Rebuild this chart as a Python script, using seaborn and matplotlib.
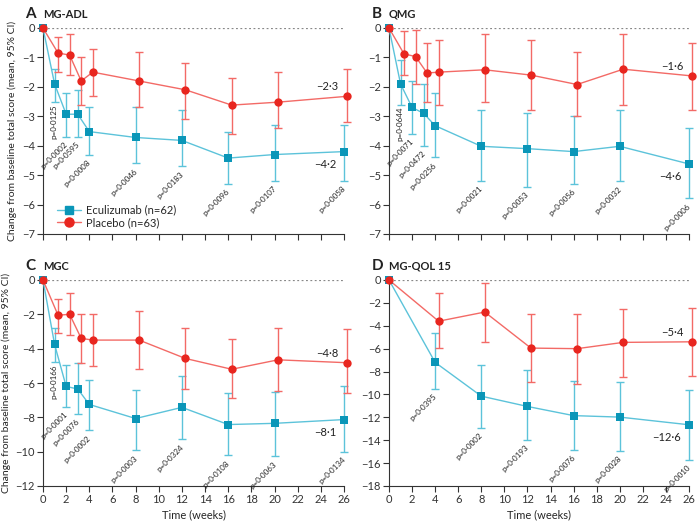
import numpy as np
import pandas as pd
import matplotlib
matplotlib.use("Agg")
import matplotlib.pyplot as plt
import seaborn as sns

# ================================
# DATA
# ================================
weeks = np.array([0, 1, 2, 3, 4, 8, 12, 16, 20, 26])
weeks_qol = np.array([0, 4, 8, 12, 16, 20, 26])

# A - MG-ADL
adl_ecu = [0, -1.9, -2.93, -2.93, -3.52, -3.72, -3.82, -4.42, -4.3, -4.2]
adl_ecu_lo = [0, -2.5, -3.7, -3.7, -4.3, -4.6, -4.7, -5.3, -5.2, -5.2]
adl_ecu_hi = [0, -1.4, -2.2, -2.1, -2.7, -2.7, -2.78, -3.52, -3.3, -3.3]
adl_pbo = [0, -0.85, -0.92, -1.8, -1.5, -1.8, -2.1, -2.62, -2.52, -2.32]
adl_pbo_lo = [0, -1.5, -1.6, -2.6, -2.3, -2.7, -3.1, -3.6, -3.4, -3.2]
adl_pbo_hi = [0, -0.32, -0.2, -1.0, -0.7, -0.8, -1.2, -1.7, -1.5, -1.4]
adl_p = ["0·0125", "0·0002", "0·0595", "0·0008", "0·0046", "0·0183", "0·0096", "0·0107", "0·0058"]
adl_end = ["\u22122·3", "\u22124·2"]

# B - QMG
qmg_ecu = [0, -1.9, -2.7, -2.9, -3.32, -4.02, -4.1, -4.2, -4.02, -4.62]
qmg_ecu_lo = [0, -2.6, -3.6, -4.0, -4.4, -5.2, -5.4, -5.3, -5.2, -5.78]
qmg_ecu_hi = [0, -1.1, -1.8, -1.9, -2.2, -2.8, -2.9, -3.0, -2.8, -3.4]
qmg_pbo = [0, -0.88, -0.97, -1.53, -1.5, -1.42, -1.6, -1.92, -1.4, -1.63]
qmg_pbo_lo = [0, -1.6, -1.9, -2.5, -2.6, -2.5, -2.8, -3.0, -2.6, -2.78]
qmg_pbo_hi = [0, -0.1, -0.08, -0.52, -0.42, -0.2, -0.4, -0.8, -0.2, -0.52]
qmg_p = ["0·0644", "0·0071", "0·0472", "0·0256", "0·0021", "0·0053", "0·0056", "0·0032", "0·0006"]
qmg_end = ["\u22121·6", "\u22124·6"]

# C - MGC
mgc_ecu = [0, -3.75, -6.2, -6.35, -7.25, -8.07, -7.42, -8.42, -8.35, -8.13]
mgc_ecu_lo = [0, -4.8, -7.4, -7.8, -8.75, -9.9, -9.27, -10.2, -10.25, -10.0]
mgc_ecu_hi = [0, -2.8, -4.95, -4.85, -5.85, -6.4, -5.58, -6.6, -6.5, -6.2]
mgc_pbo = [0, -2.05, -2.0, -3.4, -3.5, -3.5, -4.57, -5.2, -4.65, -4.82]
mgc_pbo_lo = [0, -3.1, -3.22, -4.85, -5.0, -5.2, -6.35, -6.85, -6.48, -6.6]
mgc_pbo_hi = [0, -1.1, -0.75, -2.0, -2.0, -1.78, -2.8, -3.42, -2.8, -2.88]
mgc_p = ["0·0166", "0·0001", "0·0076", "0·0002", "0·0003", "0·0324", "0·0108", "0·0063", "0·0134"]
mgc_end = ["\u22124·8", "\u22128·1"]

# D - MG-QOL 15
qol_ecu = [0, -7.2, -10.15, -11.05, -11.85, -11.98, -12.65]
qol_ecu_lo = [0, -9.5, -12.9, -13.95, -14.85, -14.9, -15.7]
qol_ecu_hi = [0, -4.65, -7.45, -7.9, -8.85, -8.9, -9.6]
qol_pbo = [0, -3.6, -2.8, -5.95, -6.0, -5.45, -5.4]
qol_pbo_lo = [0, -5.9, -5.4, -8.95, -9.1, -8.45, -8.35]
qol_pbo_hi = [0, -1.1, -0.3, -2.95, -3.0, -2.5, -2.45]
qol_p = ["0·0395", "0·0002", "0·0193", "0·0076", "0·0028", "0·0010"]
qol_end = ["\u22125·4", "\u221212·6"]

ecu_dark, ecu_light = "#0a96b8", "#5cc3da"
pbo_dark, pbo_light = "#e8261f", "#f36a66"

sns.set_theme(style="ticks")
plt.rcParams["font.family"] = ["Lato", "DejaVu Sans"]
plt.rcParams["axes.edgecolor"] = "#333333"
plt.rcParams["xtick.color"] = "#333333"
plt.rcParams["ytick.color"] = "#333333"

fig = plt.figure(figsize=(7, 5.21), dpi=100)
W, H = 700, 521


def add_ax(left, top, right, bottom):
    return fig.add_axes([left / W, 1 - bottom / H, (right - left) / W, (bottom - top) / H])


def draw_panel(ax, x, ecu, ecu_lo, ecu_hi, pbo, pbo_lo, pbo_hi, pvals, ends, ymin, ystep,
               letter, name, show_x, show_ylabel, vert_first):
    x = np.asarray(x, dtype=float)
    x_pbo = np.where(x > 0, x + 0.3, x)
    df = pd.DataFrame({"x": np.concatenate([x, x_pbo]),
                       "y": ecu + pbo,
                       "lo": ecu_lo + pbo_lo,
                       "hi": ecu_hi + pbo_hi,
                       "group": ["Eculizumab (n=62)"] * len(x) + ["Placebo (n=63)"] * len(x)})

    ax.axhline(0, color="#888888", lw=0.9, ls=(0, (1.5, 2)), zorder=0)

    for grp, dark, light, mk, ms in [("Eculizumab (n=62)", ecu_dark, ecu_light, "s", 28),
                                     ("Placebo (n=63)", pbo_dark, pbo_light, "o", 36)]:
        d = df[df.group == grp]
        e = d[d.x > 0]
        ax.errorbar(e.x, e.y, yerr=[e.y - e.lo, e.hi - e.y], fmt="none",
                    ecolor=light, elinewidth=1.0, capsize=2.6, capthick=1.0,
                    zorder=2, clip_on=False)
        sns.lineplot(data=d, x="x", y="y", ax=ax, color=light, lw=1.0,
                     zorder=3, clip_on=False, legend=False, errorbar=None, sort=False)
        sns.scatterplot(data=d, x="x", y="y", ax=ax, color=dark, marker=mk, s=ms,
                        linewidth=0, zorder=4, clip_on=False, legend=False)
        # legend proxy
        ax.plot([], [], color=light, lw=1.0, marker=mk, markerfacecolor=dark,
                markeredgecolor=dark, markersize=6.5 if mk == "o" else 6, label=grp)

    # p values below eculizumab lower CI
    yr = -ymin
    xs = x[x > 0]
    los = np.array(ecu_lo)[x > 0]
    for i, (xi, lo, p) in enumerate(zip(xs, los, pvals)):
        if vert_first and i == 0:
            ax.text(xi - 0.05, lo - 0.012 * yr, "p=" + p, rotation=90, ha="center",
                    va="top", fontsize=5.8, color="#222222")
        else:
            ax.text(xi + 0.25, lo - 0.02 * yr, "p=" + p, rotation=45, ha="right",
                    va="top", fontsize=5.8, color="#222222")

    # end labels
    ax.annotate(ends[0], (x_pbo[-1], pbo[-1]), xytext=(-6.5, 3), textcoords="offset points",
                ha="right", va="bottom", fontsize=8, color="#222222", annotation_clip=False)
    ax.annotate(ends[1], (x[-1], ecu[-1]), xytext=(-5.5, -5), textcoords="offset points",
                ha="right", va="top", fontsize=8, color="#222222", annotation_clip=False)

    ax.set_xlim(0, 26)
    ax.set_ylim(ymin, 0)
    ax.set_xticks(np.arange(0, 27, 2))
    ticks = np.arange(ymin, 0.1, ystep)
    ax.set_yticks(ticks)
    ax.set_yticklabels([str(int(v)) if v == 0 else "\u2212" + str(int(-v)) for v in ticks])
    ax.tick_params(axis="both", direction="out", length=4, width=0.8, labelsize=8, pad=2)
    if not show_x:
        ax.set_xticklabels([])
        ax.set_xlabel("")
    else:
        ax.set_xlabel("Time (weeks)", fontsize=8, labelpad=3)
    ax.set_ylabel("Change from baseline total score (mean, 95% CI)" if show_ylabel else "",
                  fontsize=7.5, labelpad=3)
    sns.despine(ax=ax)
    ax.spines["left"].set_linewidth(0.8)
    ax.spines["bottom"].set_linewidth(0.8)

    ax.text(-0.058, 1.035, letter, transform=ax.transAxes, fontsize=11, fontweight="bold",
            ha="left", va="bottom", color="#222222")
    ax.text(0.0, 1.04, name, transform=ax.transAxes, fontsize=8, fontweight="bold",
            ha="left", va="bottom", color="#222222")


axA = add_ax(43, 28, 344, 234)
axB = add_ax(389, 28, 689, 234)
axC = add_ax(43, 280, 344, 486)
axD = add_ax(389, 280, 689, 486)

draw_panel(axA, weeks, adl_ecu, adl_ecu_lo, adl_ecu_hi, adl_pbo, adl_pbo_lo, adl_pbo_hi,
           adl_p, adl_end, -7, 1, "A", "MG-ADL", False, True, True)
draw_panel(axB, weeks, qmg_ecu, qmg_ecu_lo, qmg_ecu_hi, qmg_pbo, qmg_pbo_lo, qmg_pbo_hi,
           qmg_p, qmg_end, -7, 1, "B", "QMG", False, False, True)
draw_panel(axC, weeks, mgc_ecu, mgc_ecu_lo, mgc_ecu_hi, mgc_pbo, mgc_pbo_lo, mgc_pbo_hi,
           mgc_p, mgc_end, -12, 2, "C", "MGC", True, True, True)
draw_panel(axD, weeks_qol, qol_ecu, qol_ecu_lo, qol_ecu_hi, qol_pbo, qol_pbo_lo, qol_pbo_hi,
           qol_p, qol_end, -18, 2, "D", "MG-QOL 15", True, False, False)

axA.legend(loc="lower left", bbox_to_anchor=(0.02, -0.01), frameon=False, fontsize=8,
           handlelength=2.2, handletextpad=0.4, borderaxespad=0.3, labelspacing=0.15)

fig.savefig("out.png", dpi=100)
